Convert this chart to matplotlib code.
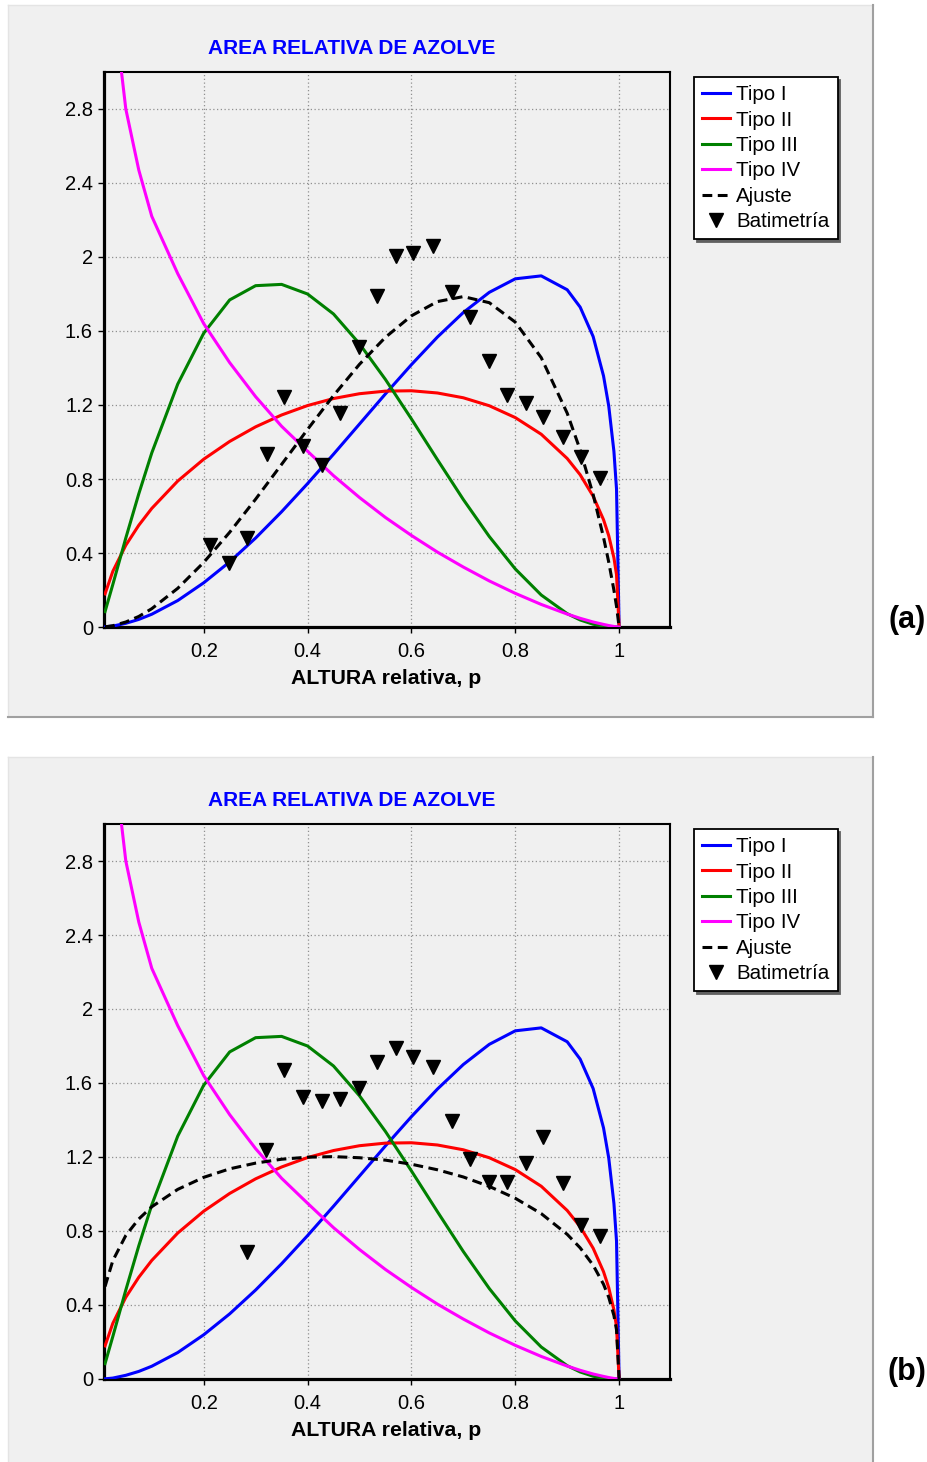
import matplotlib
matplotlib.use("Agg")
import matplotlib.pyplot as plt
from matplotlib.patches import Rectangle
from matplotlib.lines import Line2D

plt.rcParams['font.family'] = ['Liberation Sans', 'DejaVu Sans']

# ---------------- data ----------------
p = [0.01, 0.025, 0.05, 0.075, 0.1, 0.15, 0.2, 0.25, 0.3, 0.35, 0.4, 0.45, 0.5,
     0.55, 0.6, 0.65, 0.7, 0.75, 0.8, 0.85, 0.9, 0.925, 0.95, 0.97, 0.98, 0.99,
     0.995, 1.0]

tipo_I = [0.001, 0.005, 0.020, 0.041, 0.069, 0.143, 0.239, 0.352, 0.481, 0.623,
          0.775, 0.934, 1.097, 1.260, 1.418, 1.567, 1.700, 1.809, 1.882, 1.898,
          1.823, 1.729, 1.570, 1.357, 1.195, 0.949, 0.746, 0.0]
tipo_II = [0.179, 0.301, 0.442, 0.550, 0.641, 0.789, 0.907, 1.003, 1.082, 1.146,
           1.197, 1.235, 1.261, 1.275, 1.277, 1.265, 1.239, 1.196, 1.132, 1.042,
           0.911, 0.823, 0.707, 0.580, 0.494, 0.374, 0.283, 0.0]
tipo_III = [0.083, 0.230, 0.481, 0.720, 0.941, 1.313, 1.588, 1.768, 1.845, 1.852,
            1.800, 1.692, 1.531, 1.338, 1.125, 0.905, 0.689, 0.489, 0.314, 0.173,
            0.072, 0.038, 0.015, 0.005, 0.002, 0.0, 0.0, 0.0]
tipo_IV = [4.20, 3.400, 2.800, 2.470, 2.220, 1.910, 1.640, 1.429, 1.245, 1.085,
           0.950, 0.818, 0.700, 0.592, 0.495, 0.405, 0.324, 0.249, 0.182, 0.122,
           0.070, 0.047, 0.027, 0.014, 0.008, 0.003, 0.001, 0.0]

ajuste_a = [0.001, 0.007, 0.027, 0.057, 0.099, 0.209, 0.349, 0.512, 0.691, 0.879,
            1.068, 1.251, 1.420, 1.566, 1.682, 1.759, 1.786, 1.753, 1.648, 1.456,
            1.156, 0.957, 0.716, 0.484, 0.351, 0.199, 0.112, 0.0]
ajuste_b = [0.500, 0.640, 0.776, 0.865, 0.931, 1.025, 1.090, 1.136, 1.167, 1.188,
            1.199, 1.202, 1.196, 1.183, 1.161, 1.131, 1.092, 1.041, 0.977, 0.894,
            0.782, 0.709, 0.615, 0.512, 0.442, 0.343, 0.266, 0.0]

bat_a_x = [0.213, 0.249, 0.284, 0.321, 0.354, 0.391, 0.428, 0.463, 0.500, 0.534,
           0.571, 0.604, 0.641, 0.678, 0.713, 0.749, 0.784, 0.820, 0.854, 0.891,
           0.926, 0.963]
bat_a_y = [0.443, 0.348, 0.479, 0.935, 1.243, 0.978, 0.876, 1.158, 1.515, 1.789,
           2.005, 2.023, 2.059, 1.813, 1.677, 1.438, 1.254, 1.209, 1.133, 1.029,
           0.917, 0.804]

bat_b_x = [0.284, 0.320, 0.354, 0.392, 0.428, 0.462, 0.499, 0.533, 0.570, 0.604,
           0.641, 0.678, 0.712, 0.749, 0.784, 0.820, 0.854, 0.891, 0.926, 0.963]
bat_b_y = [0.686, 1.238, 1.670, 1.523, 1.504, 1.514, 1.575, 1.712, 1.791, 1.739,
           1.688, 1.395, 1.188, 1.067, 1.067, 1.169, 1.306, 1.058, 0.832, 0.773]

x_ticks = [0.2, 0.4, 0.6, 0.8, 1.0]
x_ticklabels = ['0.2', '0.4', '0.6', '0.8', '1']
y_ticks = [0, 0.4, 0.8, 1.2, 1.6, 2.0, 2.4, 2.8]
y_ticklabels = ['0', '0.4', '0.8', '1.2', '1.6', '2', '2.4', '2.8']

series_labels = ['Tipo I', 'Tipo II', 'Tipo III', 'Tipo IV', 'Ajuste', 'Batimetría']
series_colors = ['#0000ff', '#ff0000', '#008000', '#ff00ff']
title_text = 'AREA RELATIVA DE AZOLVE'
xlabel_text = 'ALTURA relativa, p'
panel_tags = ['(a)', '(b)']

# ---------------- figure ----------------
W, H = 928, 1462
fig = plt.figure(figsize=(W / 100, H / 100), dpi=100)
fig.patch.set_facecolor('white')


def fx(x):
    return x / W


def fy(y):
    return 1 - y / H


def panel(off, ajuste, bx, by, tag, box_bottom):
    # background box
    fig.patches.append(Rectangle((fx(8), fy(box_bottom)), fx(873) - fx(8),
                                 fy(5 + off) - fy(box_bottom),
                                 transform=fig.transFigure, facecolor='#f0f0f0',
                                 edgecolor='none', zorder=-5))
    edge_kw = dict(transform=fig.transFigure, zorder=-4)
    fig.add_artist(Line2D([fx(8), fx(873)], [fy(5 + off), fy(5 + off)],
                          color='#e4e4e4', lw=1, **edge_kw))
    fig.add_artist(Line2D([fx(8), fx(8)], [fy(5 + off), fy(box_bottom)],
                          color='#e4e4e4', lw=1, **edge_kw))
    fig.add_artist(Line2D([fx(873), fx(873)], [fy(5 + off), fy(box_bottom)],
                          color='#a0a0a0', lw=1.5, **edge_kw))
    if box_bottom < H - 2:
        fig.add_artist(Line2D([fx(8), fx(873)], [fy(box_bottom), fy(box_bottom)],
                              color='#a0a0a0', lw=1.5, **edge_kw))

    left, right, top, bottom = 104, 670, 72 + off, 627 + off
    ax = fig.add_axes([fx(left), fy(bottom), fx(right) - fx(left), fy(top) - fy(bottom)])
    ax.set_zorder(2)
    ax.set_facecolor('#f0f0f0')
    ax.set_xlim(0.008, 1.098)
    ax.set_ylim(0, 3.0)

    handles = []
    for ys, c, lab in zip([tipo_I, tipo_II, tipo_III, tipo_IV], series_colors, series_labels[:4]):
        h, = ax.plot(p, ys, color=c, lw=2.2, label=lab, zorder=3)
        handles.append(h)
    h, = ax.plot(p, ajuste, color='black', lw=2.2, ls=(0, (3.2, 1.8)), label=series_labels[4], zorder=4)
    handles.append(h)
    h, = ax.plot(bx, by, ls='none', marker='v', ms=10, color='black', label=series_labels[5], zorder=5)
    handles.append(h)

    ax.set_xticks(x_ticks)
    ax.set_xticklabels(x_ticklabels)
    ax.set_yticks(y_ticks)
    ax.set_yticklabels(y_ticklabels)
    ax.tick_params(labelsize=14.5, length=4, width=1, pad=4)
    ax.tick_params(axis='x', pad=7)
    ax.grid(True, color='#909090', ls=(0, (1, 2)), lw=0.9)
    ax.set_axisbelow(True)
    for s in ['left', 'bottom']:
        ax.spines[s].set_linewidth(2.3)
    for s in ['top', 'right']:
        ax.spines[s].set_linewidth(1.5)

    leg = ax.legend(handles=handles, loc='upper left',
                    bbox_to_anchor=(fx(694), fy(77 + off)), bbox_transform=fig.transFigure,
                    borderaxespad=0, fontsize=14.8, frameon=True, fancybox=False,
                    shadow={'color': '#606060', 'alpha': 1}, framealpha=1,
                    edgecolor='black', facecolor='white', handlelength=1.35,
                    handletextpad=0.3, labelspacing=0.31, borderpad=0.4, numpoints=1)
    leg.get_frame().set_linewidth(1.3)

    fig.text(fx(352), fy(48 + off), title_text, color='#0000ff', fontsize=15,
             fontweight='bold', ha='center', va='center')
    fig.text(fx(386.5), fy(678 + off), xlabel_text, fontsize=15.3,
             fontweight='bold', ha='center', va='center')
    fig.text(fx(907), fy(620 + off), tag, fontsize=22, fontweight='bold',
             ha='center', va='center')


panel(0, ajuste_a, bat_a_x, bat_a_y, panel_tags[0], 717)
panel(752, ajuste_b, bat_b_x, bat_b_y, panel_tags[1], 1462)

fig.savefig('out.png', dpi=100, facecolor='white')
